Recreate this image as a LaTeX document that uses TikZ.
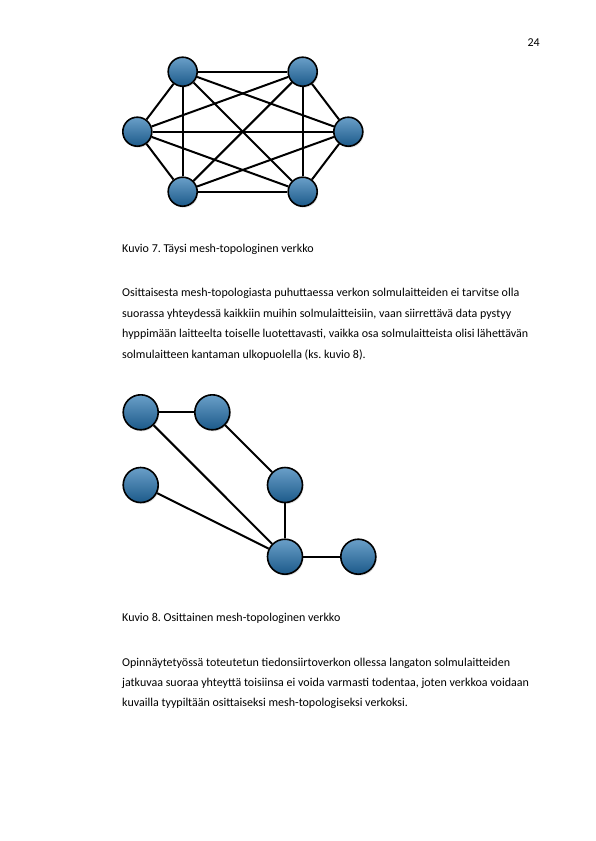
\documentclass[tikz,border=0pt]{standalone}
\usepackage{fontspec}
\setmainfont{Carlito}
\usetikzlibrary{shadows}
\definecolor{solmuyla}{HTML}{6A9FC8}
\definecolor{solmuala}{HTML}{1C5A8A}
\frenchspacing

\begin{document}
\begin{tikzpicture}[x=1pt,y=-1pt,
  solmu/.style={circle, draw=black, line width=1.6pt, inner sep=0pt,
    top color=solmuyla, bottom color=solmuala,
    drop shadow={opacity=0.25, shadow xshift=1pt, shadow yshift=-1.5pt}},
  pieni/.style={solmu, minimum size=29pt},
  iso/.style={solmu, minimum size=35pt},
  yhteys/.style={draw=black, line width=2pt},
  teksti/.style={anchor=base west, inner sep=0pt, font=\fontsize{12}{14}\selectfont},
]
\useasboundingbox[fill=white] (0,0) rectangle (595,841);

\node[teksti, anchor=base east] (sivu) at (540,46) {24};

% Kuvio 7: full mesh
\node[pieni] (t1) at (182.7,71.7) {};
\node[pieni] (t2) at (302.7,71.7) {};
\node[pieni] (t3) at (348.3,131.7) {};
\node[pieni] (t4) at (302.7,191.7) {};
\node[pieni] (t5) at (182.7,191.7) {};
\node[pieni] (t6) at (137.3,131.7) {};
\foreach \a in {1,...,5} {
  \pgfmathtruncatemacro{\b}{\a+1}
  \foreach \c in {\b,...,6}
    \path[yhteys] (t\a) -- (t\c);
}

\node[teksti] (kuvio7) at (122,252) {Kuvio 7. Täysi mesh-topologinen verkko};

\node[teksti] (p1) at (122,296) {Osittaisesta mesh-topologiasta puhuttaessa verkon solmulaitteiden ei tarvitse olla};
\node[teksti] (p2) at (122,317) {suorassa yhteydessä kaikkiin muihin solmulaitteisiin, vaan siirrettävä data pystyy};
\node[teksti] (p3) at (122,337.5) {hyppimään laitteelta toiselle luotettavasti, vaikka osa solmulaitteista olisi lähettävän};
\node[teksti] (p4) at (122,358) {solmulaitteen kantaman ulkopuolella (ks. kuvio 8).};

% Kuvio 8: partial mesh
\node[iso] (o1) at (140.7,412.3) {};
\node[iso] (o2) at (212.3,412.3) {};
\node[iso] (o3) at (140.7,485) {};
\node[iso] (o4) at (285,485) {};
\node[iso] (o5) at (285,556.7) {};
\node[iso] (o6) at (358.3,556.7) {};
\path[yhteys] (o1) -- (o2);
\path[yhteys] (o1) -- (o5);
\path[yhteys] (o2) -- (o4);
\path[yhteys] (o3) -- (o5);
\path[yhteys] (o4) -- (o5);
\path[yhteys] (o5) -- (o6);

\node[teksti] (kuvio8) at (122,621) {Kuvio 8. Osittainen mesh-topologinen verkko};

\node[teksti] (q1) at (122,666) {Opinnäytetyössä toteutetun tiedonsiirtoverkon ollessa langaton solmulaitteiden};
\node[teksti] (q2) at (122,686) {jatkuvaa suoraa yhteyttä toisiinsa ei voida varmasti todentaa, joten verkkoa voidaan};
\node[teksti] (q3) at (122,706) {kuvailla tyypiltään osittaiseksi mesh-topologiseksi verkoksi.};
\end{tikzpicture}
\end{document}
